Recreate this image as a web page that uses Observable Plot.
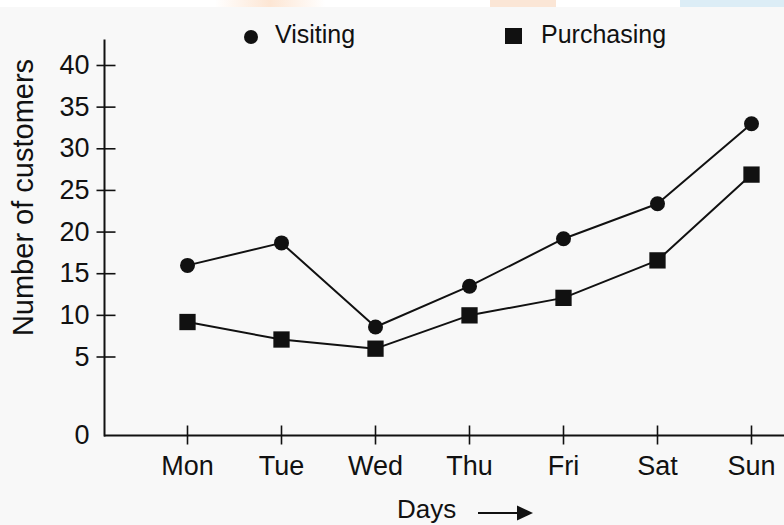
<!DOCTYPE html>
<html>
<head>
<meta charset="utf-8">
<script src="https://cdn.jsdelivr.net/npm/d3@7"></script>
<script src="https://cdn.jsdelivr.net/npm/@observablehq/plot@0.6"></script>
<style>
  html, body { margin: 0; padding: 0; background: #f8f8f8; }
  #wrap { position: relative; width: 784px; height: 525px; overflow: hidden;
          font-family: "Liberation Sans", Arial, Helvetica, sans-serif; color: #111; }
  #chart { position: absolute; left: 0; top: 0; }
  .band { position: absolute; top: 0; left: 0; width: 784px; height: 7px; background: #fff; }
  .patch { position: absolute; top: 0; height: 7px; }
  .lbl { position: absolute; white-space: nowrap; line-height: 1; }
  .legend-dot { position: absolute; width: 14px; height: 14px; border-radius: 50%; background: #111; }
  .legend-sq { position: absolute; width: 17px; height: 16px; background: #111; }
</style>
</head>
<body>
<div id="wrap">
  <div class="band"></div>
  <div class="patch" style="left:215px;width:110px;background:linear-gradient(90deg,#fff,#fde6d4,#fff);"></div>
  <div class="patch" style="left:490px;width:66px;background:#fbe6d6;"></div>
  <div class="patch" style="left:680px;width:104px;background:#dcedf6;"></div>
  <div id="chart"></div>
  <div class="legend-dot" style="left:244px;top:30px;"></div>
  <div class="lbl" id="legV" style="left:275px;top:22px;font-size:25px;"></div>
  <div class="legend-sq" style="left:505px;top:28px;"></div>
  <div class="lbl" id="legP" style="left:541px;top:22px;font-size:25px;"></div>
  <div class="lbl" id="ytitle" style="left:-127px;top:183px;width:300px;height:29px;font-size:29px;text-align:center;transform:rotate(-90deg);transform-origin:50% 50%;"></div>
  <div class="lbl" id="xtitle" style="left:397px;top:496px;font-size:26px;"></div>
  <svg style="position:absolute;left:476px;top:504px;" width="60" height="18">
    <line x1="2" y1="9" x2="43" y2="9" stroke="#111" stroke-width="2"/>
    <polygon points="41,1.5 57,9 41,16.5" fill="#111"/>
  </svg>
</div>
<script>
const days = ["Mon", "Tue", "Wed", "Thu", "Fri", "Sat", "Sun"];
const visiting = [16.0, 18.7, 8.6, 13.5, 19.2, 23.4, 33.0];
const purchasing = [9.2, 7.1, 6.0, 10.0, 12.1, 16.6, 26.9];
const seriesNames = ["Visiting", "Purchasing"];
const yTickLabels = [0, 5, 10, 15, 20, 25, 30, 35, 40];
const yTitle = "Number of customers";
const xTitle = "Days";

document.getElementById("legV").textContent = seriesNames[0];
document.getElementById("legP").textContent = seriesNames[1];
document.getElementById("ytitle").textContent = yTitle;
document.getElementById("xtitle").textContent = xTitle;

const rows = [];
days.forEach((d, i) => {
  rows.push({day: d, series: seriesNames[0], value: visiting[i]});
  rows.push({day: d, series: seriesNames[1], value: purchasing[i]});
});
const visRows = rows.filter(r => r.series === seriesNames[0]);
const purRows = rows.filter(r => r.series === seriesNames[1]);

const W = 784, H = 525, mt = 40, mb = 90, ml = 104, mr = 0;
// broken axis: 0 sits lower than the regular 5-unit spacing
const yBottom = H - mb;            // value 0
const yTopVal = 43;
const unit = 8.329;                // px per unit above 5
const yFive = mt + (yTopVal - 5) * unit;

const hTick = {draw(ctx) { ctx.moveTo(-8, 0); ctx.lineTo(11, 0); }};
const vTick = {draw(ctx) { ctx.moveTo(0, -10); ctx.lineTo(0, 9); }};

const chart = Plot.plot({
  width: W, height: H,
  marginTop: mt, marginBottom: mb, marginLeft: ml, marginRight: mr,
  style: {background: "transparent", fontFamily: "Liberation Sans, Arial, sans-serif", color: "#111"},
  x: {type: "point", domain: days, padding: 0, range: [185, 752]},
  y: {type: "linear", domain: [0, 5, yTopVal], range: [yBottom, yFive, mt]},
  marks: [
    Plot.frame({anchor: "left", stroke: "#111", strokeWidth: 2}),
    Plot.ruleY([0], {stroke: "#111", strokeWidth: 2}),
    Plot.dot(yTickLabels.filter(v => v > 0), {y: d => d, frameAnchor: "left", symbol: hTick, r: 5, fill: "none", stroke: "#111", strokeWidth: 1.6}),
    Plot.dot(days, {x: d => d, frameAnchor: "bottom", symbol: vTick, r: 5, fill: "none", stroke: "#111", strokeWidth: 1.6}),
    Plot.axisY({ticks: yTickLabels, tickSize: 0, tickPadding: 15, fontSize: 27, label: null, fill: "#111"}),
    Plot.axisX({tickSize: 0, tickPadding: 20, fontSize: 27, label: null, fill: "#111"}),
    Plot.line(rows, {x: "day", y: "value", z: "series", stroke: "#111", strokeWidth: 2}),
    Plot.dot(visRows, {x: "day", y: "value", symbol: "circle", r: 7.5, fill: "#111"}),
    Plot.dot(purRows, {x: "day", y: "value", symbol: "square", r: 9.2, fill: "#111"})
  ]
});
document.getElementById("chart").appendChild(chart);
</script>
</body>
</html>
